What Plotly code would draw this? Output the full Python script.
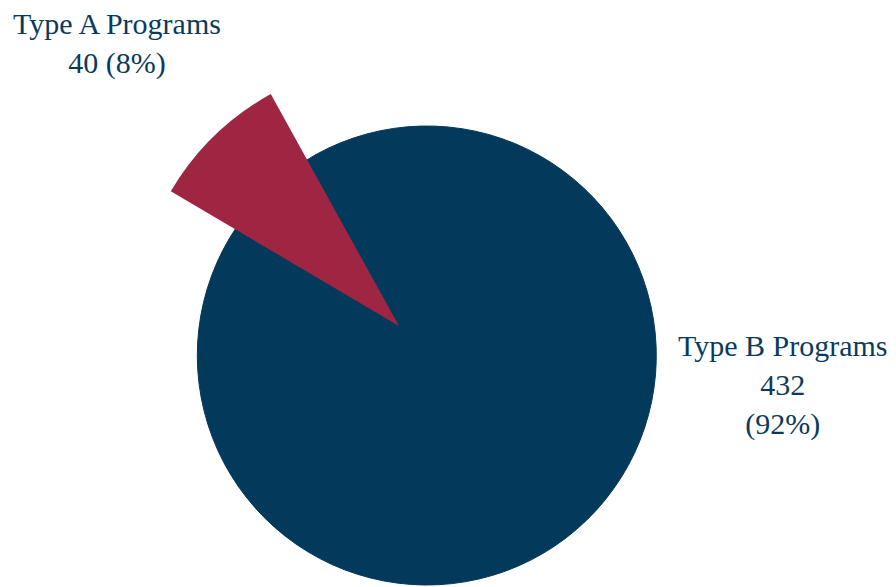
import plotly.graph_objects as go

# ---- data ----
labels = ["Type A Programs", "Type B Programs"]
values = [40, 432]
colors = ["#9E2642", "#03395A"]
pulled_slice = [1, 0]  # which slice is exploded

total = sum(values)
pcts = [round(v / total * 100) for v in values]

W, H = 888, 587
OFF = 8  # page body margin offset
navy = colors[1]
red = colors[0]
text_color = "#0B3B5C"
font_family = "Liberation Serif, Times New Roman, serif"
ROT = -59.45

def dom(cx, cy, r):
    cx -= OFF
    cy -= OFF
    yb = H - cy
    return dict(x=[(cx - r) / W, (cx + r) / W], y=[(yb - r) / H, (yb + r) / H])

fig = go.Figure()

# base circle (whole pie in navy)
fig.add_trace(go.Pie(
    labels=labels, values=values, sort=False,
    direction="counterclockwise", rotation=ROT,
    marker=dict(colors=[navy, navy], line=dict(width=1, color=navy)),
    textinfo="none", hoverinfo="skip",
    domain=dom(426.8, 355.5, 229.5),
    showlegend=False,
))

# exploded Type A slice, drawn on top with a larger radius
fig.add_trace(go.Pie(
    labels=labels, values=values, sort=False,
    direction="counterclockwise", rotation=ROT,
    marker=dict(colors=[red if p else "rgba(0,0,0,0)" for p in pulled_slice],
                line=dict(width=0)),
    textinfo="none", hoverinfo="skip",
    domain=dom(399, 326, 265),
    showlegend=False,
))

label_texts = [
    f"{labels[0]}<br>{values[0]} ({pcts[0]}%)",
    f"{labels[1]}<br>{values[1]}<br>({pcts[1]}%)",
]
label_pos = [(117, 35.5 + OFF), (783, 376.5 + OFF)]

for txt, (px, py) in zip(label_texts, label_pos):
    fig.add_annotation(
        text=txt, x=(px - OFF) / W, y=1 - (py - OFF) / H, xref="paper", yref="paper",
        xanchor="center", yanchor="middle", showarrow=False, align="center",
        font=dict(family=font_family, size=30, color=text_color),
    )

fig.update_layout(
    width=W, height=H,
    margin=dict(l=0, r=0, t=0, b=0),
    paper_bgcolor="white", plot_bgcolor="white",
)

fig.write_html("out.html")
